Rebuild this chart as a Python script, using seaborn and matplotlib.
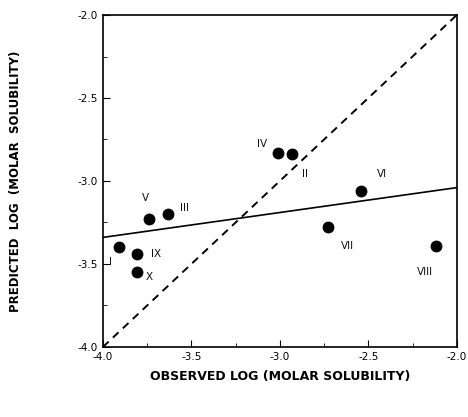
import matplotlib
matplotlib.use("Agg")
import matplotlib.pyplot as plt
import seaborn as sns
import pandas as pd
from matplotlib.ticker import MultipleLocator

sns.set_style("ticks")
plt.rcParams['font.family'] = ['DejaVu Sans']

labels = ["I", "II", "III", "IV", "V", "VI", "VII", "VIII", "IX", "X"]
observed = [-3.91, -2.93, -3.63, -3.01, -3.74, -2.54, -2.73, -2.12, -3.81, -3.81]
predicted = [-3.40, -2.84, -3.20, -2.83, -3.23, -3.06, -3.28, -3.39, -3.44, -3.55]
label_x = [-3.96, -2.86, -3.54, -3.10, -3.76, -2.42, -2.62, -2.18, -3.70, -3.74]
label_y = [-3.49, -2.96, -3.16, -2.78, -3.10, -2.96, -3.39, -3.55, -3.44, -3.58]

fit_x = [-4.0, -2.0]
fit_y = [-3.34, -3.04]
ident_x = [-4.0, -2.0]
ident_y = [-4.0, -2.0]

df = pd.DataFrame({"obs": observed, "pred": predicted})

fig = plt.figure(figsize=(4.68, 4.17), dpi=100)
ax = fig.add_axes([0.220, 0.168, 0.756, 0.796])

sns.lineplot(x=ident_x, y=ident_y, ax=ax, color="black", linestyle=(0, (4, 3)), linewidth=1.4)
sns.lineplot(x=fit_x, y=fit_y, ax=ax, color="black", linewidth=1.2)
sns.scatterplot(data=df, x="obs", y="pred", ax=ax, color="black", s=62, edgecolor="black", zorder=5)

for lab, lx, ly in zip(labels, label_x, label_y):
    ax.text(lx, ly, lab, fontsize=7.5, ha="center", va="center", color="#111111")

ax.set_xlim(-4.0, -2.0)
ax.set_ylim(-4.0, -2.0)
ax.xaxis.set_minor_locator(MultipleLocator(0.25))
ax.yaxis.set_minor_locator(MultipleLocator(0.25))
ax.set_xticks([-4.0, -3.5, -3.0, -2.5, -2.0])
ax.set_xticklabels(["-4.0", "-3.5", "-3.0", "-2.5", "-2.0"])
ax.set_yticks([-4.0, -3.5, -3.0, -2.5, -2.0])
ax.set_yticklabels(["-4.0", "-3.5", "-3.0", "-2.5", "-2.0"])
ax.tick_params(axis="both", which="both", direction="in", labelsize=7.5,
               color="black", labelcolor="black")
ax.tick_params(axis="both", which="major", length=5)
ax.tick_params(axis="both", which="minor", length=3)
for sp in ax.spines.values():
    sp.set_linewidth(1.2)
    sp.set_color("black")

ax.set_xlabel("OBSERVED LOG (MOLAR SOLUBILITY)", fontsize=9, fontweight="bold",
              labelpad=6, color="black")
ax.set_ylabel("PREDICTED  LOG  (MOLAR  SOLUBILITY)", fontsize=8.5, fontweight="bold",
              labelpad=40, color="black")

fig.savefig("out.png", dpi=100)
